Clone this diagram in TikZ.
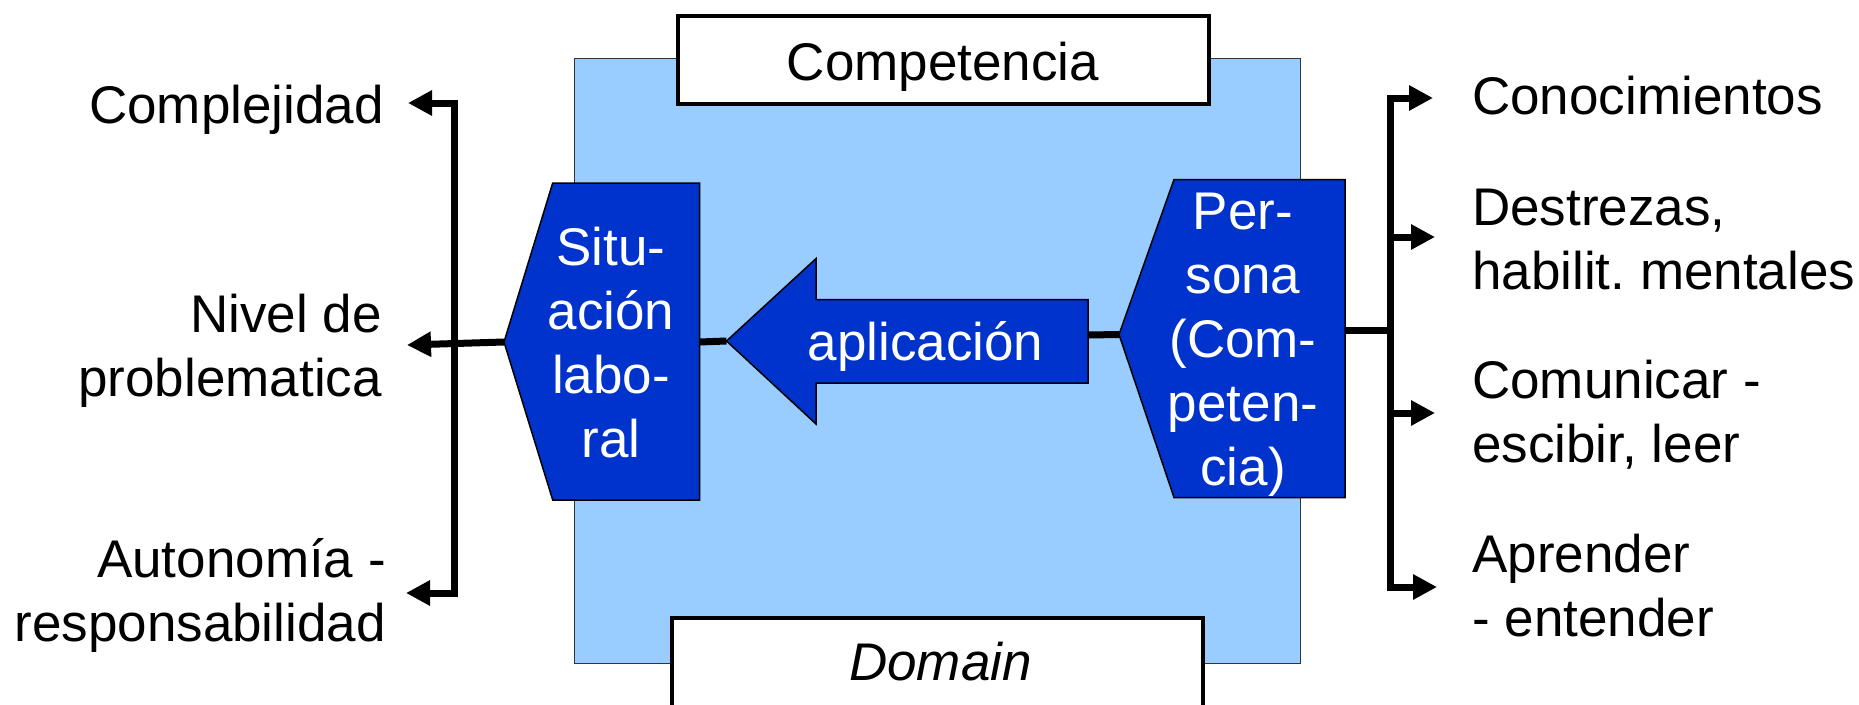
\documentclass[tikz,border=0pt]{standalone}
\usepackage{fontspec}
\setmainfont{Liberation Sans}
\usetikzlibrary{arrows.meta}
\definecolor{lightbg}{HTML}{99CCFF}
\definecolor{darkbl}{HTML}{0033CC}
\frenchspacing
\tikzset{
  lbl/.style={inner sep=0pt, font=\fontsize{53}{64}\selectfont},
  wlbl/.style={lbl, text=white, align=center},
  titlebox/.style={draw=black, fill=white, line width=4.5pt},
  bluesh/.style={draw=black, fill=darkbl, line width=1.5pt, line join=miter},
  conn/.style={line width=7pt, draw=black},
  arr/.style={conn, -{Triangle[length=24pt,width=24pt]}},
  darr/.style={conn, {Triangle[length=24pt,width=24pt]}-{Triangle[length=24pt,width=24pt]}}
}
\begin{document}
\begin{tikzpicture}[x=1pt,y=-1pt]
\useasboundingbox (0,0) rectangle (1859,704);
% background panel
\filldraw[fill=lightbg, draw=black!80, line width=1pt] (574,58) rectangle (1300,663);
\draw[titlebox] (678,16) rectangle (1209,104);
\draw[titlebox] (672,618) rectangle (1203,730);
\node[lbl, anchor=base] (comp) at (943,80) {Competencia};
\node[lbl, anchor=base, font=\fontsize{53}{64}\selectfont\itshape] (dom) at (940.5,680) {Domain};

% shapes
\filldraw[bluesh] (504,342) -- (552.7,183) -- (699.5,183) -- (699.5,500) -- (552.7,500) -- cycle;
\filldraw[bluesh] (1119,334.5) -- (1174,179.5) -- (1345,179.5) -- (1345,497.5) -- (1174,497.5) -- cycle;
\filldraw[bluesh] (726.5,341) -- (816,258.6) -- (816,299.5) -- (1088,299.5) -- (1088,383) -- (816,383) -- (816,424) -- cycle;

\coordinate (sitW) at (504,342);
\coordinate (sitE) at (699.5,342);
\coordinate (apTip) at (726.5,341);
\coordinate (apTail) at (1088,335);
\coordinate (perW) at (1119,334.5);
\coordinate (perE) at (1345,330);

\node[wlbl, anchor=base] (sit) at (611,457) {Situ-\\ación\\labo-\\ral};
\node[wlbl, anchor=base] (per) at (1243,485.6) {Per-\\sona\\(Com-\\peten-\\cia)};
\node[wlbl, anchor=base] (apl) at (925.6,360.6) {aplicación};

% connectors inside
\draw[conn] (sitE) -- (apTip);
\draw[conn] (apTail) -- (perW);

% left labels
\node[lbl, anchor=base east] (cx) at (384,123) {Complejidad};
\node[lbl, anchor=base east, align=right] (nv) at (382,396.8) {Nivel de\\problematica};
\node[lbl, anchor=base east, align=right] (au) at (386,641.7) {Autonomía -\\responsabilidad};

\coordinate (lTopTip) at (408,103);
\coordinate (lTop) at (454,103);
\coordinate (lBot) at (454,593);
\coordinate (lBotTip) at (406,593);
\coordinate (lMidTip) at (407,345);
\draw[darr, line join=miter] (lTopTip) -- (lTop) -- (lBot) -- (lBotTip);
\draw[arr] (sitW) -- (lMidTip);

% right labels
\node[lbl, anchor=base west] (co) at (1472,114.7) {Conocimientos};
\node[lbl, anchor=base west, align=left] (de) at (1472,289.6) {Destrezas,\\habilit.\ mentales};
\node[lbl, anchor=base west, align=left] (cm) at (1472,462.6) {Comunicar -\\escibir, leer};
\node[lbl, anchor=base west, align=left] (ap) at (1472,636.7) {Aprender\\- entender};

\coordinate (rTop) at (1390,98);
\coordinate (rTopTip) at (1433,98);
\coordinate (rBot) at (1390,587);
\coordinate (rBotTip) at (1437,587);
\coordinate (rMid) at (1390,330);
\coordinate (rA) at (1390,237);
\coordinate (rATip) at (1435,237);
\coordinate (rB) at (1390,413);
\coordinate (rBTip) at (1435,413);
\draw[darr, line join=miter] (rTopTip) -- (rTop) -- (rBot) -- (rBotTip);
\draw[arr] (rA) -- (rATip);
\draw[arr] (rB) -- (rBTip);
\draw[conn] (perE) -- (rMid);
\end{tikzpicture}
\end{document}
